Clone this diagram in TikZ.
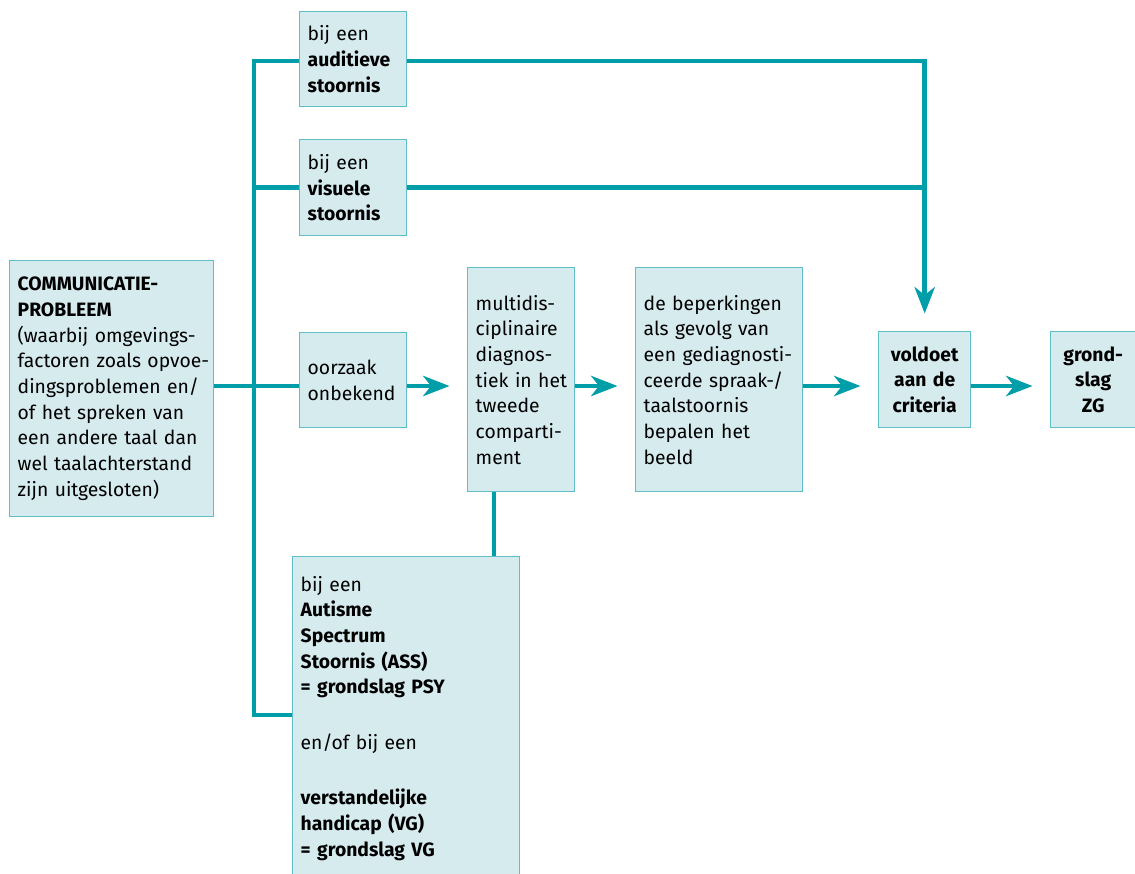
\documentclass[tikz,border=0pt]{standalone}
\usepackage{fontspec}
\setmainfont{Fira Sans}
\usetikzlibrary{arrows.meta}

\definecolor{teal}{RGB}{0,158,168}
\definecolor{boxfill}{RGB}{213,235,238}
\definecolor{boxline}{RGB}{95,190,198}

\tikzset{
  box/.style={draw=boxline, fill=boxfill, line width=0.8pt, anchor=north west,
    align=left, inner xsep=0.16cm, inner ysep=0pt,
    font=\fontsize{11}{14.6}\selectfont},
  flow/.style={draw=teal, line width=2.8pt},
  arr/.style={-{Stealth[length=15pt, width=11.5pt, inset=4.5pt]}, shorten >=0.35cm}
}

\begin{document}
\begin{tikzpicture}[x=0.02cm, y=-0.02cm]
				\useasboundingbox (0,0) rectangle (1135,873);
				\clip (0,0) rectangle (1135,873);
				\node[box, minimum width=4.08cm, minimum height=5.12cm, text width=3.76cm] (comm) at (9,260) {\textbf{COMMUNICATIE-}\\\textbf{PROBLEEM}\\(waarbij omgevings-\\\mbox{factoren zoals opvoe-}\\dingsproblemen en/\\\mbox{of het spreken van}\\\mbox{een andere taal dan}\\\mbox{wel taalachterstand}\\zijn uitgesloten)};
				\node[box, minimum width=2.14cm, minimum height=1.90cm, text width=1.82cm] (aud) at (299,11) {bij een\\\textbf{auditieve}\\\textbf{stoornis}};
				\node[box, minimum width=2.14cm, minimum height=1.92cm, text width=1.82cm] (vis) at (299,139) {bij een\\\textbf{visuele}\\\textbf{stoornis}};
				\node[box, minimum width=2.14cm, minimum height=1.90cm, text width=1.82cm] (oorz) at (299,332) {oorzaak\\onbekend};
				\node[box, minimum width=2.14cm, minimum height=4.48cm, text width=1.82cm] (multi) at (467,267) {multidis-\\ciplinaire\\diagnos-\\\mbox{tiek in het}\\tweede\\comparti-\\ment};
				\node[box, minimum width=3.34cm, minimum height=4.48cm, text width=3.02cm] (beperk) at (635,267) {\mbox{de beperkingen}\\\mbox{als gevolg van}\\\mbox{een gediagnosti-}\\\mbox{ceerde spraak-/}\\taalstoornis\\\mbox{bepalen het}\\beeld};
				\node[box, align=center, minimum width=1.84cm, minimum height=1.92cm, text width=1.52cm] (voldoet) at (878,331) {\textbf{voldoet}\\\textbf{aan de}\\\textbf{criteria}};
				\node[box, align=center, minimum width=1.70cm, minimum height=1.92cm, text width=1.38cm] (grond) at (1050,331) {\textbf{grond-}\\\textbf{slag}\\\textbf{ZG}};
				\node[box, inner ysep=11pt, minimum width=4.54cm, text width=4.22cm] (ass) at (292,556) {bij een\\\textbf{Autisme}\\\textbf{Spectrum}\\\textbf{Stoornis (ASS)}\\\textbf{= grondslag PSY}\\[17pt]en/of bij een\\[17pt]\textbf{verstandelijke}\\\textbf{handicap (VG)}\\\textbf{= grondslag VG}\\[10pt]\mbox{}};

				% verbindingen
				\coordinate (top) at (254,61);
				\coordinate (bot) at (254,715);
				\coordinate (mid) at (0,386);
				\draw[flow] (aud.west |- top) -- (top) -- (bot) -- (ass.west |- bot);
				\draw[flow] (vis.west) -- (vis.west -| top);
				\draw[flow] (comm.east |- mid) -- (oorz.west |- mid);
				\draw[flow, arr] (aud.east |- top) -- (voldoet.north |- top) -- (voldoet.north);
				\draw[flow] (vis.east) -- (vis.east -| voldoet.north);
				\draw[flow, arr] (oorz.east |- mid) -- (multi.west |- mid);
				\draw[flow, arr] (multi.east |- mid) -- (beperk.west |- mid);
				\draw[flow, arr] (beperk.east |- mid) -- (voldoet.west |- mid);
				\draw[flow, arr] (voldoet.east |- mid) -- (grond.west |- mid);
				\path (multi.south west) ++(27,0) coordinate (link);
				\draw[flow] (link) -- (link |- ass.north);
			\end{tikzpicture}
\end{document}
